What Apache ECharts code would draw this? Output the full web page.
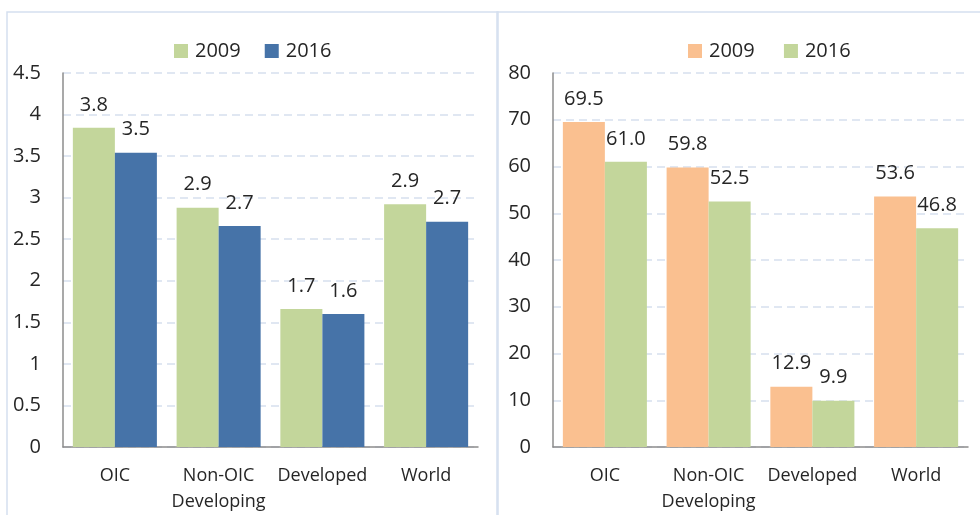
<!DOCTYPE html>
<html>
<head>
<meta charset="utf-8">
<script src="https://cdn.jsdelivr.net/npm/echarts@6/dist/echarts.min.js"></script>
<style>
  html, body { margin: 0; padding: 0; background: #fff; }
  #chart { width: 980px; height: 515px; }
</style>
</head>
<body>
<div id="chart"></div>
<script>
// categories shared by both panels
var categories = ['OIC', 'Non-OIC\nDeveloping', 'Developed', 'World'];
var legendNames = ['2009', '2016'];

// left panel
var left2009 = [3.84, 2.88, 1.66, 2.92];
var left2016 = [3.54, 2.66, 1.60, 2.71];
var leftTicks = { min: 0, max: 4.5, interval: 0.5 };

// right panel
var right2009 = [69.5, 59.8, 12.9, 53.6];
var right2016 = [61.0, 52.5, 9.9, 46.8];
var rightTicks = { min: 0, max: 80, interval: 10 };

var FONT = '"Open Sans", sans-serif';
var TXT = '#262626';
var GREEN = '#C3D69B', BLUE = '#4673A8', ORANGE = '#FAC090';

function yAxis(idx, t) {
  return {
    type: 'value', gridIndex: idx, min: t.min, max: t.max, interval: t.interval,
    axisLine: { show: true, lineStyle: { color: '#8C8C8C', width: 1.5 } },
    axisTick: { show: false },
    axisLabel: { color: TXT, fontSize: 20, fontFamily: FONT, margin: 22 },
    splitLine: { lineStyle: { color: '#D6DFEE', width: 1.5, type: [8, 5] } }
  };
}
function xAxis(idx) {
  return {
    type: 'category', gridIndex: idx, data: categories,
    axisLine: { lineStyle: { color: '#8C8C8C', width: 1.5 } },
    axisTick: { show: false },
    axisLabel: { color: TXT, fontSize: 18, fontFamily: FONT, margin: 16, lineHeight: 26, interval: 0 }
  };
}
function bars(name, data, idx, color) {
  return {
    name: name, type: 'bar', xAxisIndex: idx, yAxisIndex: idx, data: data,
    barGap: '0%', barCategoryGap: '19%',
    itemStyle: { color: color },
    label: {
      show: true, position: 'top', distance: 13, color: TXT, fontSize: 20, fontFamily: FONT,
      formatter: function (p) { return p.value.toFixed(1); }
    }
  };
}

var legendText = { color: TXT, fontSize: 20, fontFamily: FONT, padding: [0, 0, 0, 2] };

var chart = echarts.init(document.getElementById('chart'));
chart.setOption({
  backgroundColor: '#fff',
  animation: false,
  graphic: [
    { type: 'rect', shape: { x: 7, y: 12, width: 491, height: 520 }, style: { fill: 'none', stroke: '#D5E0EF', lineWidth: 1.5 } },
    { type: 'rect', shape: { x: 497, y: 12, width: 500, height: 520 }, style: { fill: 'none', stroke: '#D5E0EF', lineWidth: 1.5 } }
  ],
  legend: [
    { data: legendNames, left: 169, top: 36, itemWidth: 14, itemHeight: 14, itemGap: 24,
      textStyle: legendText, icon: 'rect' },
    { data: [
        { name: '2009 ', icon: 'rect' }, { name: '2016 ', icon: 'rect' }
      ], left: 683, top: 36, itemWidth: 14, itemHeight: 14, itemGap: 24,
      textStyle: legendText }
  ],
  grid: [
    { left: 63, right: 502, top: 73, bottom: 67 },
    { left: 553, right: 12, top: 73, bottom: 67 }
  ],
  xAxis: [xAxis(0), xAxis(1)],
  yAxis: [yAxis(0, leftTicks), yAxis(1, rightTicks)],
  series: [
    bars('2009', left2009, 0, GREEN),
    bars('2016', left2016, 0, BLUE),
    bars('2009 ', right2009, 1, ORANGE),
    bars('2016 ', right2016, 1, GREEN)
  ]
});
</script>
</body>
</html>
